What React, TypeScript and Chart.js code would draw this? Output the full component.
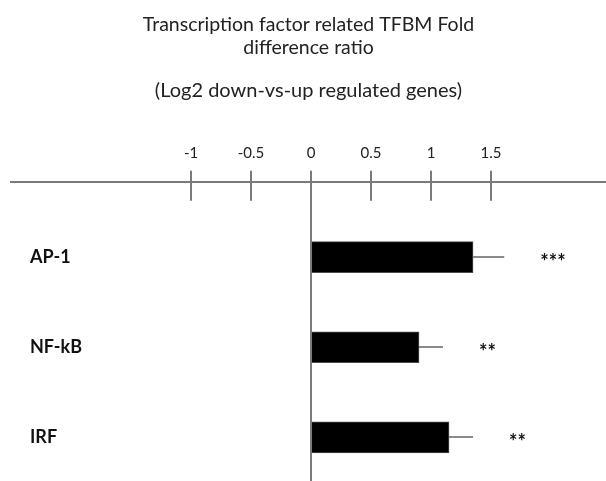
import React, { useEffect, useRef } from 'react';
import { Chart, registerables } from 'chart.js';

Chart.register(...registerables);

const TITLE_LINES = ['Transcription factor related TFBM Fold', 'difference ratio'];
const SUBTITLE = '(Log2 down-vs-up regulated genes)';
const CATEGORIES = ['AP-1', 'NF-kB', 'IRF'];
const VALUES = [1.35, 0.9, 1.15];
const ERRORS = [0.26, 0.2, 0.2];
const SIGNIFICANCE = ['***', '**', '**'];
const X_TICKS = [-1, -0.5, 0, 0.5, 1, 1.5];

const AXIS_COLOR = '#7a7a7a';
const FONT = 'Lato';

const annotationsPlugin = {
  id: 'annotations',
  afterDatasetsDraw(chart: any) {
    const { ctx, chartArea } = chart;
    const x = chart.scales.x;
    const y = chart.scales.y;
    ctx.save();
    // lower half of the tick marks that cross the axis line
    ctx.strokeStyle = AXIS_COLOR;
    ctx.lineWidth = 2;
    x.ticks.forEach((t: any) => {
      const px = Math.round(x.getPixelForValue(t.value));
      ctx.beginPath();
      ctx.moveTo(px, chartArea.top);
      ctx.lineTo(px, chartArea.top + 19);
      ctx.stroke();
    });
    VALUES.forEach((v, i) => {
      const yc = y.getPixelForValue(i);
      const x0 = x.getPixelForValue(v);
      const x1 = x.getPixelForValue(v + ERRORS[i]);
      // error bar
      ctx.strokeStyle = '#8a8a8a';
      ctx.lineWidth = 2;
      ctx.beginPath();
      ctx.moveTo(x0, Math.round(yc));
      ctx.lineTo(x1, Math.round(yc));
      ctx.stroke();
      // significance stars
      ctx.fillStyle = '#111';
      ctx.font = `bold 20px ${FONT}`;
      ctx.textBaseline = 'middle';
      ctx.textAlign = 'left';
      ctx.fillText(SIGNIFICANCE[i], x1 + 36, yc + 5);
      // category label
      ctx.font = `bold 18px ${FONT}`;
      ctx.fillText(CATEGORIES[i], chartArea.left + 19, yc);
    });
    ctx.restore();
  },
};

export default function App() {
  const canvasRef = useRef<HTMLCanvasElement | null>(null);

  useEffect(() => {
    const canvas = canvasRef.current;
    if (!canvas) return;
    const chart = new Chart(canvas, {
      type: 'bar',
      data: {
        datasets: [
          {
            data: VALUES.map((v, i) => ({ x: v, y: i })),
            backgroundColor: '#000000',
            borderColor: '#4d4d4d',
            borderWidth: 1,
            barThickness: 31,
          },
        ],
      },
      options: {
        indexAxis: 'y',
        animation: false,
        responsive: false,
        layout: { padding: { left: 11, right: 0, top: 0, bottom: 0 } },
        plugins: {
          legend: { display: false },
          tooltip: { enabled: false },
          title: {
            display: true,
            text: TITLE_LINES,
            color: '#222',
            font: { family: FONT, size: 19.5, weight: 'normal', lineHeight: 1.15 },
            padding: { top: 14, bottom: 11 },
          },
          subtitle: {
            display: true,
            text: SUBTITLE,
            color: '#222',
            font: { family: FONT, size: 20, weight: 'normal', lineHeight: 1.1 },
            padding: { top: 10, bottom: 33 },
          },
        },
        scales: {
          x: {
            type: 'linear',
            position: 'top',
            min: -2.5,
            max: 2.458,
            afterBuildTicks: (s: any) => {
              s.ticks = X_TICKS.map((v) => ({ value: v }));
            },
            ticks: {
              color: '#222',
              font: { family: FONT, size: 15 },
              padding: 9,
              callback: (v: any) => String(v),
            },
            grid: {
              drawOnChartArea: true,
              color: (c: any) => (c.tick && c.tick.value === 0 ? AXIS_COLOR : 'rgba(0,0,0,0)'),
              lineWidth: 2,
              tickColor: AXIS_COLOR,
              tickWidth: 2,
              tickLength: 11,
            },
            border: { display: true, color: AXIS_COLOR, width: 2 },
          },
          y: {
            type: 'linear',
            display: false,
            offset: false,
            reverse: true,
            min: -0.836,
            max: 2.485,
            afterBuildTicks: (s: any) => {
              s.ticks = CATEGORIES.map((_, i) => ({ value: i }));
            },
            grid: { display: false, drawTicks: false },
          },
        },
      },
      plugins: [annotationsPlugin],
    } as any);
    return () => chart.destroy();
  }, []);

  return (
    <div style={{ position: 'absolute', left: 0, top: 0, width: 606, height: 481, background: '#fff' }}>
      <canvas ref={canvasRef} width={606} height={481} />
    </div>
  );
}
